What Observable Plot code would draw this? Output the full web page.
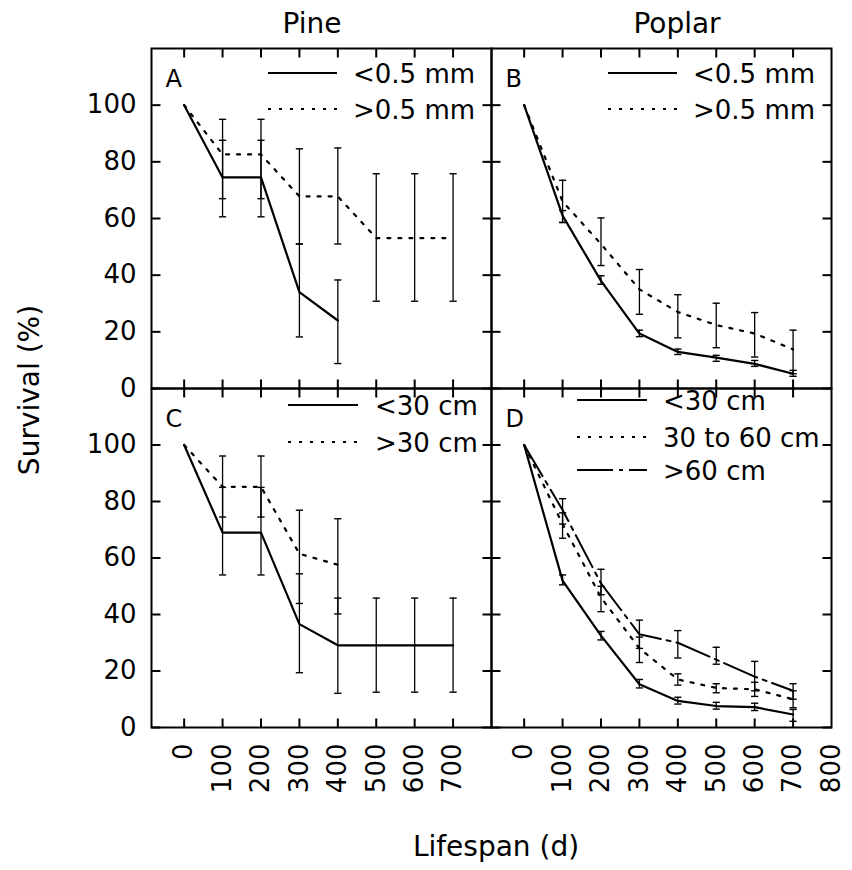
<!DOCTYPE html>
<html><head><meta charset="utf-8">
<script src="https://cdn.jsdelivr.net/npm/d3@7"></script>
<script src="https://cdn.jsdelivr.net/npm/@observablehq/plot@0.6"></script>
<style>
body{margin:0;background:#fff;}
#chart{position:relative;width:852px;height:870px;font-family:"DejaVu Sans",sans-serif;color:#000;background:#fff;overflow:hidden;}
.pl{position:absolute;}
.t{position:absolute;white-space:nowrap;line-height:1;transform:translate(-50%,-50%);}
.lt{position:absolute;white-space:nowrap;line-height:1;font-size:26px;transform:translate(0,-50%);}
</style></head><body><div id="chart"></div>
<script>
// ---- data ----
const days = [0, 100, 200, 300, 400, 500, 600, 700];
const yTicks = [0, 20, 40, 60, 80, 100];
const xLabelsPine = [0, 100, 200, 300, 400, 500, 600, 700];
const xLabelsPoplar = [0, 100, 200, 300, 400, 500, 600, 700, 800];
const xTickMarks = [0, 100, 200, 300, 400, 500, 600, 700];

// A: Pine, root diameter
const pineFineSurv = [100, 74.5, 74.5, 34, 24];
const pineFineLo   = [null, 60.6, 60.6, 18.2, 8.8];
const pineFineHi   = [null, 87.6, 87.6, 51, 38.3];
const pineCoarseSurv = [100, 82.6, 82.6, 67.8, 67.8, 53.1, 53.1, 53.1];
const pineCoarseLo   = [null, 67, 67, 51, 51, 30.8, 30.8, 30.8];
const pineCoarseHi   = [null, 95, 95, 84.6, 84.9, 75.8, 75.8, 75.8];

// B: Poplar, root diameter
const poplarFineSurv = [100, 61, 38, 19.4, 12.9, 10.9, 8.7, 5.2];
const poplarFineLo   = [null, 58.6, 36.8, 18.3, 12, 9.6, 7.8, 4.3];
const poplarFineHi   = [null, 62.8, 39.8, 20.6, 13.9, 11.7, 9.9, 6.4];
const poplarCoarseSurv = [100, 66, 51, 35, 27, 22.4, 19.4, 13.8];
const poplarCoarseLo   = [null, 58.6, 43.4, 26.2, 17.9, 14.4, 11.1, 5.2];
const poplarCoarseHi   = [null, 73.5, 60.2, 42, 33.1, 30.1, 26.8, 20.6];

// C: Pine, depth
const pineShallowSurv = [100, 69, 69, 36.6, 29.1, 29.1, 29.1, 29.1];
const pineShallowLo   = [null, 54, 54, 19.4, 12.1, 12.5, 12.5, 12.5];
const pineShallowHi   = [null, 85, 85, 54.4, 45.8, 45.8, 45.8, 45.8];
const pineDeepSurv = [100, 85.2, 85.2, 61.5, 57.6];
const pineDeepLo   = [null, 74.5, 74.5, 43.9, 40.2];
const pineDeepHi   = [null, 96.1, 96.1, 76.9, 73.9];

// D: Poplar, depth
const poplarShallowSurv = [100, 52, 32.5, 15.3, 9.4, 7.6, 7.2, 4.6];
const poplarShallowLo   = [null, 50.5, 31, 14, 8.3, 6.5, 6, 2.2];
const poplarShallowHi   = [null, 54, 34, 17, 10.7, 8.9, 8.6, 6.4];
const poplarMidSurv = [100, 72, 46, 28, 17, 14, 13.5, 10];
const poplarMidLo   = [null, 67, 41, 23, 15, 12.3, 11, 7];
const poplarMidHi   = [null, 76, 50, 32, 19, 15.5, 16, 13];
const poplarDeepSurv = [100, 77, 51, 33, 30, 24, 18, 13];
const poplarDeepLo   = [null, 72, 47, 28, 24.6, 22.4, 13, 10];
const poplarDeepHi   = [null, 81, 56, 38, 34.3, 28.4, 23.4, 15.5];

// ---- styles ----
const LS = {
  solid:   {strokeWidth: 2.2, dash: null},
  dotted:  {strokeWidth: 2.2, dash: "3,8"},
  dashdot: {strokeWidth: 2, dash: "36,6,4,6"}
};
const xDomain = [-85, 800], yDomain = [0, 120];

function rows(surv, lo, hi) {
  return surv.map((v, i) => ({day: days[i], v, lo: lo[i], hi: hi[i]}));
}
const cap = {draw(ctx, size) { const r = Math.sqrt(size / Math.PI); ctx.moveTo(-r, 0); ctx.lineTo(r, 0); }};

const chart = document.getElementById("chart");
const TL = 9; // inward tick length in px

function panel({series, letter, left, bottom, xLabels, fx, fy, legend}) {
  const mL = left ? 80 : 4, mR = left ? 4 : 22, mT = bottom ? 4 : 8, mB = bottom ? 92 : 4;
  const fw = 340, fh = bottom ? 339 : 340;
  const ty = TL * (yDomain[1] - yDomain[0]) / fh;
  const tx = TL * (xDomain[1] - xDomain[0]) / fw;
  const tk = {stroke: "black", strokeWidth: 2};
  const marks = [
    // inward ticks on all four sides
    Plot.link(xTickMarks, {x1: d => d, x2: d => d, y1: () => yDomain[0], y2: () => yDomain[0] + ty, ...tk}),
    Plot.link(xTickMarks, {x1: d => d, x2: d => d, y1: () => yDomain[1], y2: () => yDomain[1] - ty, ...tk}),
    Plot.link(yTicks, {y1: d => d, y2: d => d, x1: () => xDomain[0], x2: () => xDomain[0] + tx, ...tk}),
    Plot.link(yTicks, {y1: d => d, y2: d => d, x1: () => xDomain[1], x2: () => xDomain[1] - tx, ...tk})
  ];
  for (const s of series) {
    const d = rows(s.surv, s.lo, s.hi);
    const err = d.filter(r => r.lo != null);
    marks.push(Plot.ruleX(err, {x: "day", y1: "lo", y2: "hi", stroke: "black", strokeWidth: 1.3}));
    marks.push(Plot.dot(err, {x: "day", y: "lo", symbol: cap, r: 3.6, fill: "none", stroke: "black", strokeWidth: 1.4}));
    marks.push(Plot.dot(err, {x: "day", y: "hi", symbol: cap, r: 3.6, fill: "none", stroke: "black", strokeWidth: 1.4}));
    const st = LS[s.style];
    marks.push(Plot.line(d, {x: "day", y: "v", stroke: "black", strokeWidth: st.strokeWidth, strokeDasharray: st.dash}));
  }
  if (left) marks.push(Plot.axisY(yTicks, {anchor: "left", tickSize: 0, tickPadding: 15, label: null, fontSize: 26}));
  if (bottom) marks.push(Plot.axisX(xLabels, {anchor: "bottom", tickSize: 0, tickPadding: 16, tickRotate: -90, label: null, fontSize: 26}));
  marks.push(Plot.text([letter], {frameAnchor: "top-left", lineAnchor: "middle", dx: 14, dy: 31, fontSize: 24, textAnchor: "start"}));
  marks.push(Plot.frame({stroke: "black", strokeWidth: 2}));

  const svg = Plot.plot({
    width: mL + fw + mR, height: mT + fh + mB,
    marginLeft: mL, marginRight: mR, marginTop: mT, marginBottom: mB,
    x: {domain: xDomain, axis: null},
    y: {domain: yDomain, axis: null},
    style: {fontFamily: "DejaVu Sans", fontSize: "26px", background: "transparent", overflow: "visible", color: "black"},
    marks
  });
  svg.classList.add("pl");
  svg.style.left = (fx - mL) + "px";
  svg.style.top = (fy - mT) + "px";
  chart.appendChild(svg);

  // legend
  const NS = "http://www.w3.org/2000/svg";
  const lsvg = document.createElementNS(NS, "svg");
  lsvg.setAttribute("width", legend.x2 - legend.x1 + 4);
  lsvg.setAttribute("height", legend.items.length * 40);
  lsvg.style.position = "absolute";
  lsvg.style.left = (legend.x1 - 2) + "px";
  lsvg.style.top = (legend.items[0].y - 10) + "px";
  lsvg.style.overflow = "visible";
  for (const it of legend.items) {
    const st = LS[it.style];
    const ln = document.createElementNS(NS, "line");
    ln.setAttribute("x1", 2); ln.setAttribute("x2", legend.x2 - legend.x1 + 2);
    ln.setAttribute("y1", it.y - legend.items[0].y + 10); ln.setAttribute("y2", it.y - legend.items[0].y + 10);
    ln.setAttribute("stroke", "black"); ln.setAttribute("stroke-width", st.strokeWidth);
    if (st.dash) ln.setAttribute("stroke-dasharray", st.dash);
    lsvg.appendChild(ln);
  }
  chart.appendChild(lsvg);
  for (const it of legend.items) {
    const t = document.createElement("div");
    t.className = "lt"; t.textContent = it.label;
    t.style.left = legend.tx + "px"; t.style.top = (it.y + 1) + "px";
    chart.appendChild(t);
  }
}

panel({letter: "A", left: true, bottom: false, fx: 151, fy: 48,
  series: [
    {surv: pineFineSurv, lo: pineFineLo, hi: pineFineHi, style: "solid"},
    {surv: pineCoarseSurv, lo: pineCoarseLo, hi: pineCoarseHi, style: "dotted"}],
  legend: {x1: 268, x2: 337, tx: 353, items: [
    {label: "<0.5 mm", style: "solid", y: 73},
    {label: ">0.5 mm", style: "dotted", y: 109}]}});

panel({letter: "B", left: false, bottom: false, fx: 491, fy: 48,
  series: [
    {surv: poplarFineSurv, lo: poplarFineLo, hi: poplarFineHi, style: "solid"},
    {surv: poplarCoarseSurv, lo: poplarCoarseLo, hi: poplarCoarseHi, style: "dotted"}],
  legend: {x1: 608, x2: 677, tx: 693, items: [
    {label: "<0.5 mm", style: "solid", y: 73},
    {label: ">0.5 mm", style: "dotted", y: 109}]}});

panel({letter: "C", left: true, bottom: true, fx: 151, fy: 388, xLabels: xLabelsPine,
  series: [
    {surv: pineShallowSurv, lo: pineShallowLo, hi: pineShallowHi, style: "solid"},
    {surv: pineDeepSurv, lo: pineDeepLo, hi: pineDeepHi, style: "dotted"}],
  legend: {x1: 288, x2: 358, tx: 375, items: [
    {label: "<30 cm", style: "solid", y: 405},
    {label: ">30 cm", style: "dotted", y: 442}]}});

panel({letter: "D", left: false, bottom: true, fx: 491, fy: 388, xLabels: xLabelsPoplar,
  series: [
    {surv: poplarShallowSurv, lo: poplarShallowLo, hi: poplarShallowHi, style: "solid"},
    {surv: poplarMidSurv, lo: poplarMidLo, hi: poplarMidHi, style: "dotted"},
    {surv: poplarDeepSurv, lo: poplarDeepLo, hi: poplarDeepHi, style: "dashdot"}],
  legend: {x1: 577, x2: 647, tx: 663, items: [
    {label: "<30 cm", style: "solid", y: 400},
    {label: "30 to 60 cm", style: "dotted", y: 437},
    {label: ">60 cm", style: "dashdot", y: 470}]}});

function label(text, x, y, size, rotate) {
  const d = document.createElement("div");
  d.className = "t"; d.textContent = text;
  d.style.left = x + "px"; d.style.top = y + "px"; d.style.fontSize = size + "px";
  if (rotate) d.style.transform = "translate(-50%,-50%) rotate(-90deg)";
  chart.appendChild(d);
}
label("Pine", 312, 24, 28);
label("Poplar", 677, 24, 28);
label("Survival (%)", 30, 390, 28, true);
label("Lifespan (d)", 496, 847, 28);
</script></body></html>
